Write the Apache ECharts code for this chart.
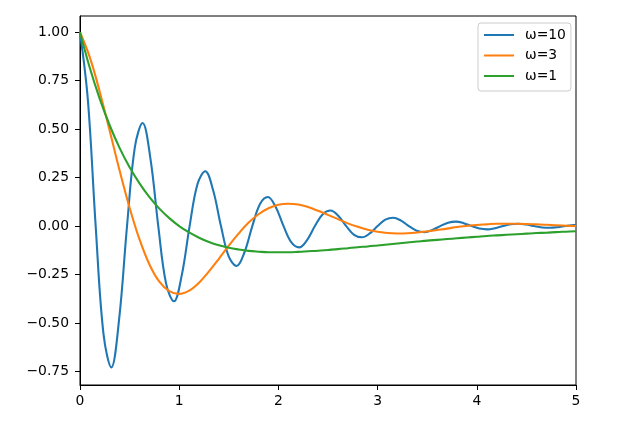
<!DOCTYPE html>
<html><head><meta charset="utf-8">
<script src="https://cdn.jsdelivr.net/npm/echarts@6/dist/echarts.min.js"></script>
<style>html,body{margin:0;padding:0;background:#fff}#c{width:640px;height:430px}</style>
</head><body><div id="c"></div>
<script>
const seriesNames = ['ω=10', 'ω=3', 'ω=1'];
const seriesColors = ['#1f77b4', '#ff7f0e', '#2ca02c'];

// ω=10 curve, read at its peaks, troughs, zero crossings and midpoints
const tW10 = [0, 0.079, 0.158, 0.237, 0.316, 0.395, 0.474, 0.553, 0.631, 0.710, 0.789, 0.868, 0.947,
  1.026, 1.105, 1.184, 1.263, 1.342, 1.421, 1.500, 1.579, 1.658, 1.737, 1.816, 1.894, 1.973,
  2.052, 2.131, 2.210, 2.289, 2.368, 2.447, 2.526, 2.605, 2.684, 2.763, 2.842, 2.921, 3.000,
  3.078, 3.157, 3.236, 3.315, 3.394, 3.473, 3.552, 3.631, 3.710, 3.789, 3.868, 3.947,
  4.026, 4.105, 4.184, 4.262, 4.341, 4.420, 4.499, 4.578, 4.657, 4.736, 4.815, 4.894, 4.973, 5.0];
const yW10 = [1.000, 0.653, 0.000, -0.558, -0.729, -0.477, 0.000, 0.407,
  0.532, 0.348, 0.000, -0.297, -0.388, -0.253, 0.000, 0.216,
  0.283, 0.185, 0.000, -0.158, -0.206, -0.135, 0.000, 0.115,
  0.150, 0.098, 0.000, -0.084, -0.110, -0.072, 0.000, 0.061,
  0.080, 0.052, 0.000, -0.045, -0.058, -0.038, 0.000, 0.033,
  0.043, 0.028, 0.000, -0.024, -0.031, -0.020, 0.000, 0.017,
  0.023, 0.015, 0.000, -0.013, -0.017, -0.011, 0.000, 0.009,
  0.012, 0.008, 0.000, -0.007, -0.009, -0.006, 0.000, 0.005, 0.006];

// ω=3 and ω=1 curves, read every 0.1
const tGrid = [0, 0.1, 0.2, 0.3, 0.4, 0.5, 0.6, 0.7, 0.8, 0.9, 1.0, 1.1, 1.2, 1.3, 1.4, 1.5, 1.6, 1.7, 1.8, 1.9,
  2.0, 2.1, 2.2, 2.3, 2.4, 2.5, 2.6, 2.7, 2.8, 2.9, 3.0, 3.1, 3.2, 3.3, 3.4, 3.5, 3.6, 3.7, 3.8, 3.9,
  4.0, 4.1, 4.2, 4.3, 4.4, 4.5, 4.6, 4.7, 4.8, 4.9, 5.0];
const yW3 = [1.000, 0.869, 0.691, 0.490, 0.285, 0.095, -0.069, -0.198, -0.287, -0.336,
  -0.350, -0.333, -0.292, -0.234, -0.169, -0.101, -0.038, 0.018, 0.061, 0.092,
  0.110, 0.115, 0.111, 0.098, 0.079, 0.058, 0.036, 0.014, -0.004, -0.019,
  -0.029, -0.036, -0.038, -0.037, -0.033, -0.027, -0.020, -0.013, -0.005, 0.001,
  0.006, 0.009, 0.012, 0.012, 0.012, 0.011, 0.009, 0.007, 0.004, 0.002, 0.000];
const yW1 = [1.000, 0.814, 0.655, 0.519, 0.402, 0.303, 0.220, 0.149, 0.090, 0.041,
  0.000, -0.033, -0.060, -0.082, -0.099, -0.112, -0.121, -0.128, -0.132, -0.135,
  -0.135, -0.135, -0.133, -0.130, -0.127, -0.123, -0.119, -0.114, -0.109, -0.105,
  -0.100, -0.095, -0.090, -0.085, -0.080, -0.075, -0.071, -0.067, -0.063, -0.059,
  -0.055, -0.051, -0.048, -0.045, -0.042, -0.039, -0.036, -0.034, -0.031, -0.029, -0.027];

const yTicks = [-0.75, -0.5, -0.25, 0, 0.25, 0.5, 0.75, 1.0];

function pairs(xs, ys) { return xs.map((x, i) => [x, ys[i]]); }
const font = 'DejaVu Sans';
const fs = 13.9;

function mkSeries(i, data) {
  return {
    name: seriesNames[i], type: 'line', data: data,
    symbol: 'none', showSymbol: false, smooth: 0.37, clip: true,
    color: seriesColors[i],
    lineStyle: { color: seriesColors[i], width: 2.08 },
    emphasis: { disabled: true }
  };
}

const chart = echarts.init(document.getElementById('c'), null, { renderer: 'canvas' });
chart.setOption({
  animation: false,
  backgroundColor: '#ffffff',
  grid: { left: 80, top: 16, width: 496, height: 369, show: true, borderColor: '#000', borderWidth: 1, backgroundColor: 'transparent' },
  xAxis: {
    type: 'value', min: 0, max: 5, interval: 1,
    axisLine: { show: true, onZero: false, lineStyle: { color: '#000', width: 1 } },
    axisTick: { show: true, length: 5, lineStyle: { color: '#000', width: 1 } },
    axisLabel: { color: '#000', fontSize: fs, fontFamily: font, margin: 9 },
    splitLine: { show: false }
  },
  yAxis: {
    type: 'value', min: -0.82, max: 1.084,
    axisLine: { show: true, onZero: false, lineStyle: { color: '#000', width: 1 } },
    axisTick: { show: true, length: 5, customValues: yTicks, lineStyle: { color: '#000', width: 1 } },
    axisLabel: {
      customValues: yTicks, color: '#000', fontSize: fs, fontFamily: font, margin: 11,
      formatter: v => (v < 0 ? '\u2212' : '') + Math.abs(v).toFixed(2)
    },
    splitLine: { show: false }
  },
  legend: {
    orient: 'vertical', left: 478, top: 23, data: seriesNames,
    itemWidth: 30, itemHeight: 14, itemGap: 6.5, padding: [5, 5, 8, 5],
    itemStyle: { opacity: 0 },
    backgroundColor: 'rgba(255,255,255,0.8)', borderColor: '#cccccc', borderWidth: 1, borderRadius: 3,
    textStyle: { color: '#000', fontSize: fs, fontFamily: font, padding: [0, 0, 0, 6] }
  },
  series: [
    mkSeries(0, pairs(tW10, yW10)),
    mkSeries(1, pairs(tGrid, yW3)),
    mkSeries(2, pairs(tGrid, yW1))
  ]
});
</script></body></html>
